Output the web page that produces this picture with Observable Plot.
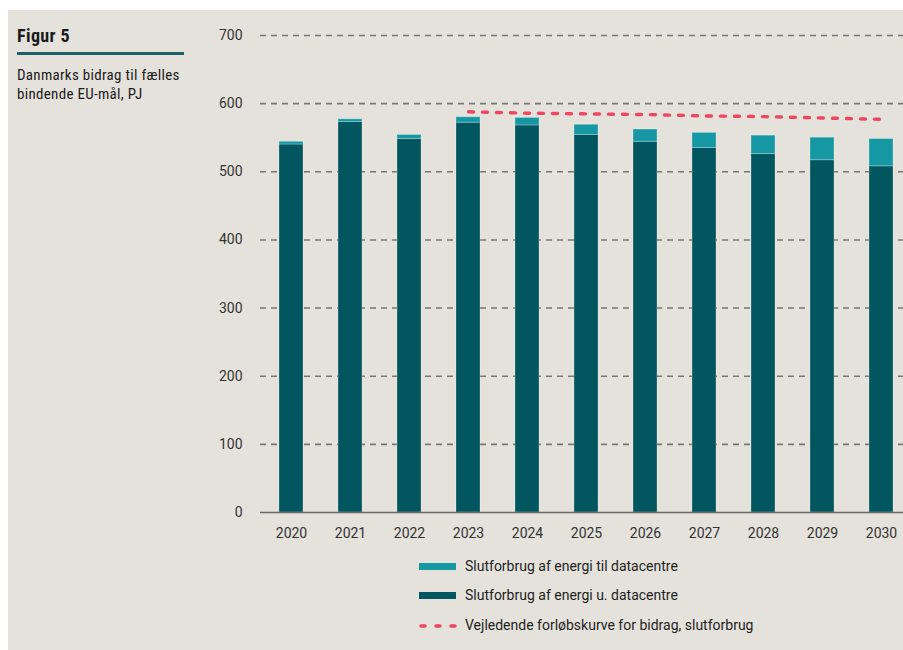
<!DOCTYPE html>
<html>
<head>
<meta charset="utf-8">
<script src="https://cdn.jsdelivr.net/npm/d3@7"></script>
<script src="https://cdn.jsdelivr.net/npm/@observablehq/plot@0.6"></script>
<style>
  html, body { margin: 0; padding: 0; width: 903px; height: 650px; overflow: hidden; background: #ffffff; }
  #panel { position: absolute; left: 8px; top: 10px; width: 895px; height: 640px; background: #e5e2dc; }
  #chart { position: absolute; left: 0; top: 0; }
  #title { position: absolute; left: 17px; top: 25px; font-family: "Roboto Condensed", "Liberation Sans Narrow", Roboto, sans-serif; font-weight: 700; font-size: 18px; letter-spacing: 0.4px; color: #1a1a1a; }
  #rule { position: absolute; left: 17px; top: 52px; width: 167px; height: 3px; background: #1c5f67; }
  #subtitle { position: absolute; left: 17px; top: 66px; width: 190px; font-family: "Liberation Sans Narrow", "Roboto Condensed", Roboto, sans-serif; font-size: 15px; letter-spacing: 0.3px; line-height: 18.5px; color: #1a1a1a; }
  .leg { position: absolute; left: 419px; font-family: Roboto, sans-serif; font-size: 14px; color: #1e1e1e; height: 20px; }
  .leg .sw { position: absolute; left: 0; top: 7px; width: 37px; height: 7px; }
  .leg .tx { position: absolute; left: 46px; top: 0; white-space: nowrap; line-height: 20px; }
</style>
</head>
<body>
<div id="panel"></div>
<div id="title">Figur 5</div>
<div id="rule"></div>
<div id="subtitle">Danmarks bidrag til fælles<br>bindende EU-mål, PJ</div>
<div id="chart"></div>
<div id="legend"></div>
<script>
// ---- data ----
const years = ["2020","2021","2022","2023","2024","2025","2026","2027","2028","2029","2030"];
const withoutDataCentres = [540, 573, 548, 572, 568, 554, 544, 535, 526, 517, 508];
const dataCentres = [4, 4, 6, 8, 11, 15, 18, 22, 27, 33, 40];
const guideYears = ["2023","2024","2025","2026","2027","2028","2029","2030"];
const guideValues = [588, 586, 585, 584, 582, 581, 579, 577];
const yTicks = [0, 100, 200, 300, 400, 500, 600, 700];
const seriesNames = ["Slutforbrug af energi u. datacentre", "Slutforbrug af energi til datacentre"];
const guideName = "Vejledende forløbskurve for bidrag, slutforbrug";
const seriesColors = ["#02565f", "#1598a4"];
const guideColor = "#ee4660";

const barData = [];
years.forEach((yr, i) => {
  barData.push({year: yr, series: seriesNames[0], value: withoutDataCentres[i]});
  barData.push({year: yr, series: seriesNames[1], value: dataCentres[i]});
});
const lineData = guideYears.map((yr, i) => ({year: yr, value: guideValues[i]}));

const plot = Plot.plot({
  width: 903,
  height: 560,
  marginLeft: 260,
  marginRight: 0,
  marginTop: 35,
  marginBottom: 48,
  style: {background: "transparent", fontFamily: "Roboto, sans-serif", fontSize: "14px", color: "#333"},
  x: {type: "band", domain: years, range: [260, 912], paddingInner: 0.595, paddingOuter: 0.304, label: null},
  y: {domain: [0, 700], label: null},
  color: {domain: seriesNames, range: seriesColors},
  marks: [
    Plot.ruleY(yTicks.filter(d => d > 0), {stroke: "#777", strokeWidth: 1.6, strokeDasharray: "6,5"}),
    Plot.barY(barData, {x: "year", y: "value", fill: "series", order: seriesNames, stroke: "#ffffff", strokeOpacity: 0.25, strokeWidth: 1}),
    Plot.ruleY([0], {stroke: "#666", strokeWidth: 1.6}),
    Plot.lineY(lineData, {x: "year", y: "value", stroke: guideColor, strokeWidth: 3.4, strokeDasharray: "5,9", strokeLinecap: "round"}),
    Plot.axisY({ticks: yTicks, tickSize: 0, tickPadding: 18, label: null, fontSize: 14}),
    Plot.axisX({tickSize: 0, tickPadding: 16, label: null, fontSize: 14})
  ]
});
document.getElementById("chart").appendChild(plot);

// ---- legend ----
const legend = document.getElementById("legend");
const legItems = [
  {name: seriesNames[1], color: seriesColors[1], top: 556, type: "box"},
  {name: seriesNames[0], color: seriesColors[0], top: 585, type: "box"},
  {name: guideName, color: guideColor, top: 615, type: "dash"}
];
legItems.forEach(it => {
  const d = document.createElement("div");
  d.className = "leg";
  d.style.top = it.top + "px";
  if (it.type === "box") {
    const s = document.createElement("div");
    s.className = "sw";
    s.style.background = it.color;
    d.appendChild(s);
  } else {
    const ns = "http://www.w3.org/2000/svg";
    const svg = document.createElementNS(ns, "svg");
    svg.setAttribute("width", 40); svg.setAttribute("height", 20);
    svg.style.position = "absolute"; svg.style.left = "0"; svg.style.top = "0";
    const ln = document.createElementNS(ns, "line");
    ln.setAttribute("x1", 2); ln.setAttribute("x2", 37);
    ln.setAttribute("y1", 11); ln.setAttribute("y2", 11);
    ln.setAttribute("stroke", it.color); ln.setAttribute("stroke-width", 3.4);
    ln.setAttribute("stroke-dasharray", "4,11"); ln.setAttribute("stroke-linecap", "round");
    svg.appendChild(ln);
    d.appendChild(svg);
  }
  const t = document.createElement("div");
  t.className = "tx";
  t.textContent = it.name;
  d.appendChild(t);
  legend.appendChild(d);
});
</script>
</body>
</html>
